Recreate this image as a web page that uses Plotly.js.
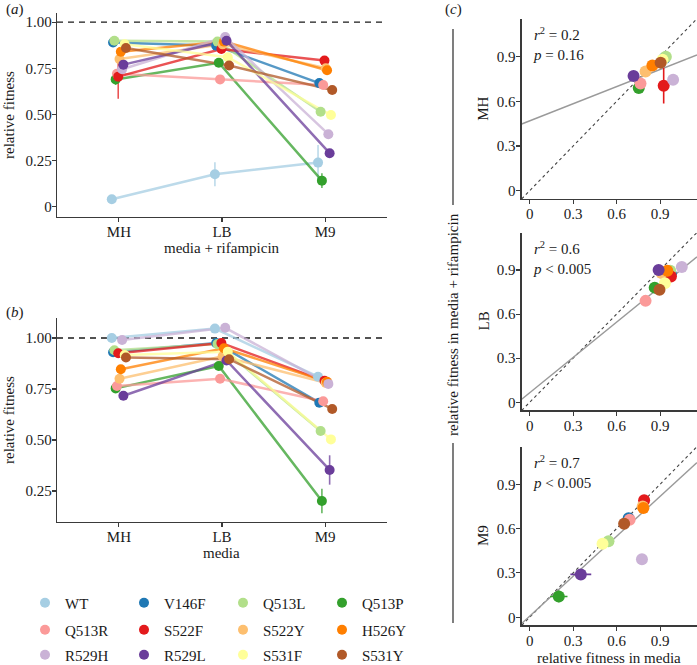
<!DOCTYPE html>
<html>
<head>
<meta charset="utf-8">
<script src="https://cdn.plot.ly/plotly-3.0.1.min.js"></script>
<style>
  html, body { margin: 0; padding: 0; background: #fff; }
  #plot { width: 697px; height: 665px; }
</style>
</head>
<body>
<div id="plot"></div>
<script>
const genotypes = ["WT", "V146F", "Q513L", "Q513P", "Q513R", "S522F", "S522Y", "H526Y", "R529H", "R529L", "S531F", "S531Y"];
const colours = ["#A6CEE3", "#1F78B4", "#B2DF8A", "#33A02C", "#FB9A99", "#E31A1C", "#FDBF6F", "#FF7F00", "#CAB2D6", "#6A3D9A", "#FFFF99", "#B15928"];
const media = ["MH", "LB", "M9"];

// relative fitness in media + rifampicin, panel (a)
const rifMH = [0.04, 0.89, 0.90, 0.69, 0.72, 0.705, 0.80, 0.84, 0.745, 0.77, 0.88, 0.86];
const rifLB = [0.176, 0.872, 0.895, 0.78, 0.69, 0.855, 0.88, 0.895, 0.92, 0.90, 0.81, 0.765];
const rifM9 = [0.239, 0.67, 0.515, 0.141, 0.66, 0.792, 0.75, 0.74, 0.393, 0.29, 0.497, 0.633];
const sdRifMH = [0.01, 0.01, 0.01, 0.03, 0.01, 0.12, 0.01, 0.01, 0.01, 0.01, 0.01, 0.01];
const sdRifLB = [0.065, 0.01, 0.01, 0.01, 0.01, 0.01, 0.01, 0.01, 0.01, 0.01, 0.01, 0.01];
const sdRifM9 = [0.095, 0.01, 0.01, 0.04, 0.01, 0.025, 0.01, 0.02, 0.01, 0.01, 0.01, 0.01];

// relative fitness in media, panel (b)
const medMH = [1.00, 0.93, 0.94, 0.753, 0.765, 0.925, 0.80, 0.847, 0.99, 0.717, 0.917, 0.904];
const medLB = [1.046, 0.975, 0.97, 0.863, 0.80, 0.975, 0.91, 0.95, 1.05, 0.89, 0.933, 0.896];
const medM9 = [0.81, 0.683, 0.544, 0.201, 0.69, 0.79, 0.78, 0.785, 0.775, 0.353, 0.503, 0.652];
const sdMedMH = [0.01, 0.01, 0.01, 0.02, 0.01, 0.01, 0.01, 0.01, 0.01, 0.01, 0.01, 0.01];
const sdMedLB = [0.01, 0.01, 0.01, 0.01, 0.01, 0.01, 0.01, 0.01, 0.01, 0.01, 0.01, 0.01];
const sdMedM9 = [0.01, 0.01, 0.01, 0.06, 0.01, 0.015, 0.02, 0.02, 0.01, 0.072, 0.01, 0.01];

// fitted lines in panel (c), one per medium
const fitIntercept = [0.469, 0.065, 0.008];
const fitSlope = [0.383, 0.80, 0.90];
const fitR2 = ["0.2", "0.6", "0.7"];
const fitP = ["= 0.16", "< 0.005", "< 0.005"];

const rif = [rifMH, rifLB, rifM9];
const sdRif = [sdRifMH, sdRifLB, sdRifM9];
const med = [medMH, medLB, medM9];
const sdMed = [sdMedMH, sdMedLB, sdMedM9];

const W = 697, H = 665;
const px = (x) => x / W;
const py = (y) => 1 - y / H;
const FONT = "'Liberation Serif', 'Times New Roman', Times, serif";
const INK = "#1a1a1a";
const AXIS = "#3a3a3a";

// ggplot-style dodge
const dodge = (i) => (i - (genotypes.length - 1) / 2) * 0.15 / genotypes.length;

const traces = [];

const addDodgedPanel = (vals, sds, xa, ya, legend) => {
  genotypes.forEach((g, i) => {
    traces.push({
      x: media.map((_, m) => m + 1 + dodge(i)),
      y: vals.map((v) => v[i]),
      xaxis: xa, yaxis: ya,
      type: "scatter", mode: "lines",
      line: { color: colours[i], width: 2.5 },
      opacity: 0.75,
      error_y: { type: "data", array: sds.map((s) => s[i]), width: 0, thickness: 1.6, color: colours[i] },
      showlegend: false, hoverinfo: "skip",
    });
  });
  genotypes.forEach((g, i) => {
    traces.push({
      x: media.map((_, m) => m + 1 + dodge(i)),
      y: vals.map((v) => v[i]),
      xaxis: xa, yaxis: ya,
      type: "scatter", mode: "markers",
      name: g,
      marker: { color: colours[i], size: 10 },
      showlegend: legend,
      legend: ["legend", "legend2", "legend3"][Math.floor(i / 4)],
    });
  });
};

addDodgedPanel(rif, sdRif, "x", "y", true);
addDodgedPanel(med, sdMed, "x2", "y2", false);

const cRange = [-0.055, 1.155];
media.forEach((m, k) => {
  const xa = "x" + (k + 3), ya = "y" + (k + 3);
  traces.push({
    x: cRange, y: cRange, xaxis: xa, yaxis: ya,
    type: "scatter", mode: "lines",
    line: { color: "#444", width: 1.1, dash: "3px,3px" },
    showlegend: false, hoverinfo: "skip",
  });
  traces.push({
    x: cRange, y: cRange.map((x) => fitIntercept[k] + fitSlope[k] * x),
    xaxis: xa, yaxis: ya,
    type: "scatter", mode: "lines",
    line: { color: "#9a9a9a", width: 1.4 },
    showlegend: false, hoverinfo: "skip",
  });
  genotypes.forEach((g, i) => {
    if (g === "WT") return;
    traces.push({
      x: [med[k][i]], y: [rif[k][i]], xaxis: xa, yaxis: ya,
      type: "scatter", mode: "markers", name: g,
      marker: { color: colours[i], size: 12 },
      error_x: { type: "data", array: [sdMed[k][i]], width: 0, thickness: 1.6, color: colours[i] },
      error_y: { type: "data", array: [sdRif[k][i]], width: 0, thickness: 1.6, color: colours[i] },
      showlegend: false,
    });
  });
});

const axisStyle = {
  showline: true, linecolor: AXIS, linewidth: 1.3,
  ticks: "outside", ticklen: 4, tickcolor: AXIS, tickwidth: 1.1,
  showgrid: false, zeroline: false,
  tickfont: { family: FONT, size: 15, color: INK },
};

const catX = (dom, anchor) => ({
  ...axisStyle, domain: dom, anchor, range: [0.4, 3.6],
  tickvals: [1, 2, 3], ticktext: media, ticklabelstandoff: -3,
});

const fitAxis = (dom, anchor, standoff) => ({
  ...axisStyle, domain: dom, anchor, range: cRange,
  tickvals: [0, 0.3, 0.6, 0.9], ticktext: ["0", "0.3", "0.6", "0.9"],
  ticklabelstandoff: standoff,
});

const cx = [px(521.7), 1];
const layout = {
  width: W, height: H,
  margin: { l: 0, r: 0, t: 0, b: 0, autoexpand: false },
  paper_bgcolor: "#fff", plot_bgcolor: "#fff",
  font: { family: FONT, size: 15, color: INK },
  xaxis: catX([px(57), px(387)], "y"),
  yaxis: {
    ...axisStyle, domain: [py(217), py(13)], anchor: "x", range: [-0.056, 1.05],
    tickvals: [0, 0.25, 0.5, 0.75, 1], ticktext: ["0", "0.25", "0.50", "0.75", "1.00"],
    ticklabelstandoff: -3,
  },
  xaxis2: catX([px(57), px(387)], "y2"),
  yaxis2: {
    ...axisStyle, domain: [py(522), py(318)], anchor: "x2", range: [0.098, 1.098],
    tickvals: [0.25, 0.5, 0.75, 1], ticktext: ["0.25", "0.50", "0.75", "1.00"],
    ticklabelstandoff: -3,
  },
  xaxis3: fitAxis(cx, "y3", -3),
  yaxis3: fitAxis([py(198.9), py(18.7)], "x3", -2),
  xaxis4: fitAxis(cx, "y4", -3),
  yaxis4: fitAxis([py(410.4), py(232.5)], "x4", -2),
  xaxis5: fitAxis(cx, "y5", -3),
  yaxis5: fitAxis([py(625.4), py(446.6)], "x5", -2),
  shapes: [
    { type: "line", xref: "x domain", yref: "y", x0: 0, x1: 1, y0: 1, y1: 1, layer: "below",
      line: { color: INK, width: 1.3, dash: "6px,5px" } },
    { type: "line", xref: "x2 domain", yref: "y2", x0: 0, x1: 1, y0: 1, y1: 1, layer: "below",
      line: { color: INK, width: 1.3, dash: "6px,5px" } },
    { type: "line", xref: "paper", yref: "paper", x0: px(453), x1: px(453), y0: py(29), y1: py(205),
      line: { color: AXIS, width: 1.3 } },
    { type: "line", xref: "paper", yref: "paper", x0: px(453), x1: px(453), y0: py(443), y1: py(623),
      line: { color: AXIS, width: 1.3 } },
  ],
  annotations: [],
};

const legendBase = {
  orientation: "h", xanchor: "left", yanchor: "middle",
  entrywidth: 54, entrywidthmode: "pixels",
  bgcolor: "rgba(0,0,0,0)", borderwidth: 0,
  font: { family: FONT, size: 15, color: INK },
  itemclick: false, itemdoubleclick: false,
};
layout.legend = { ...legendBase, x: px(25), y: py(603) };
layout.legend2 = { ...legendBase, x: px(25), y: py(630) };
layout.legend3 = { ...legendBase, x: px(25), y: py(655) };

const note = (text, x, y, extra = {}) => layout.annotations.push({
  text, x: px(x), y: py(y), xref: "paper", yref: "paper",
  xanchor: "center", yanchor: "middle",
  showarrow: false, font: { family: FONT, size: 15, color: INK }, ...extra,
});

note("(<i>a</i>)", 4, 9, { xanchor: "left" });
note("(<i>b</i>)", 4, 312, { xanchor: "left" });
note("(<i>c</i>)", 443, 9, { xanchor: "left" });
note("relative fitness", 9, 115, { textangle: -90 });
note("relative fitness", 9, 420, { textangle: -90 });
note("media + rifampicin", 222, 248);
note("media", 222, 553);
note("relative fitness in media", 609, 658);
note("relative fitness in media + rifampicin", 453, 325, { textangle: -90 });

const stripY = [108.8, 321.5, 536];
media.forEach((m, k) => {
  note(m, 483, stripY[k], { textangle: -90 });
  layout.annotations.push({
    text: "<i>r</i><sup>2</sup> = " + fitR2[k] + "<br><i>p</i> " + fitP[k],
    xref: "x" + (k + 3) + " domain", yref: "y" + (k + 3) + " domain",
    x: 0.055, y: 0.975, xanchor: "left", yanchor: "top", align: "left",
    showarrow: false, font: { family: FONT, size: 15, color: INK },
  });
});

Plotly.newPlot("plot", traces, layout, { staticPlot: true, responsive: false });
</script>
</body>
</html>
